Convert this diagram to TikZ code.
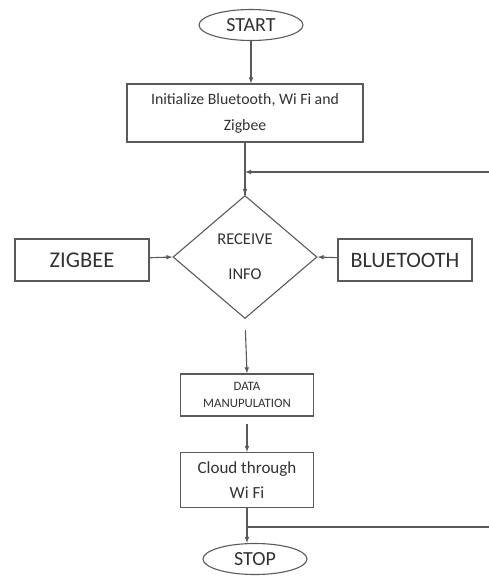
\documentclass[tikz,border=0pt]{standalone}
\usepackage{fontspec}
\setmainfont{Carlito}
\usepackage{tikz}
\usetikzlibrary{arrows,shapes.geometric,positioning}
\definecolor{linegray}{RGB}{90,90,90}
\definecolor{textgray}{RGB}{50,50,50}
\newcommand{\fsz}[2]{\fontsize{#1}{#2}\selectfont}

\begin{document}
\begin{tikzpicture}[x=1pt,y=-1pt,
	box/.style={draw=linegray, line width=1.1pt, text=textgray, align=center, inner sep=0pt},
	term/.style={ellipse, draw=linegray, line width=1.1pt, text=textgray, inner sep=0pt, minimum width=104pt, minimum height=31pt},
	arr/.style={-latex, draw=linegray, line width=1.1pt},
	ln/.style={draw=linegray, line width=1.1pt}]
	\useasboundingbox (0,0) rectangle (489,576);
	% Terminals
	\node[term, font=\fsz{20}{24}] at (251,25) (start) {START};
	\node[term, font=\fsz{20}{24}] at (255,559) (stop) {STOP};
	% Process boxes
	\node[box, minimum width=236pt, minimum height=58pt, font=\fsz{15.8}{26}] at (245,113) (init) {Initialize Bluetooth, Wi Fi and\\Zigbee};
	\node[box, minimum width=133pt, minimum height=42pt, font=\fsz{12.8}{17}] at (247,395) (data) {DATA\\MANUPULATION};
	\node[box, minimum width=133pt, minimum height=55pt, font=\fsz{17}{25}] at (247,480) (cloud) {Cloud through\\Wi Fi};
	% Decision and inputs
	\node[diamond, draw=linegray, line width=1.1pt, text=textgray, inner sep=0pt, minimum width=144pt, minimum height=123pt, align=center, font=\fsz{16.5}{35}] at (245,257) (recv) {RECEIVE\\INFO};
	\node[box, minimum width=134pt, minimum height=42pt, font=\fsz{22.5}{24}] at (82,260) (zigbee) {ZIGBEE};
	\node[box, minimum width=134pt, minimum height=42pt, font=\fsz{22}{24}] at (405,260) (bluetooth) {BLUETOOTH};
	% Loop ends at the right edge
	\coordinate (loopin) at (489,172);
	\coordinate (loopout) at (489,527);
	% Connectors
	\draw[arr] (start.south) -- (start.south |- init.north);
	\draw[ln] (init.south) -- (init.south |- recv.north);
	\draw[arr] (init.south |- loopin) ++(0,20) -- (recv.north);
	\draw[arr] (loopin) -- (init.south |- loopin);
	\draw[arr] (zigbee) -- (recv.west);
	\draw[arr] (bluetooth) -- (recv.east);
	\draw[arr, shorten <=11pt] (recv.south) -- (data.north);
	\draw[arr, shorten <=7pt] (data.south) -- (cloud.north);
	\draw[arr] (cloud.south) -- (cloud.south |- stop.north);
	\draw[ln] (cloud.south |- loopout) -- (loopout);
\end{tikzpicture}
\end{document}
